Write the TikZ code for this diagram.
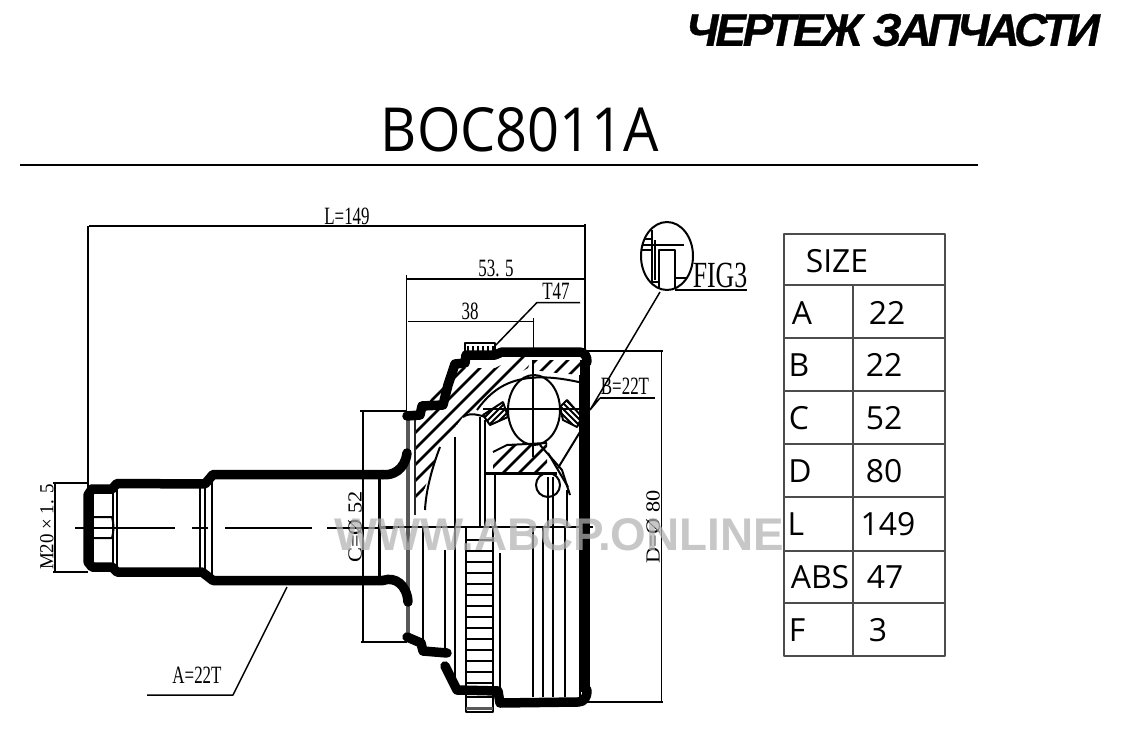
\documentclass[tikz,border=0pt]{standalone}
\usepackage{fontspec}
\setmainfont{Liberation Serif}
\newfontfamily\titlefont[LetterSpace=-7,BoldItalicFeatures={FakeBold=0.7}]{Liberation Sans}
\newfontfamily\codefont{Open Sans}
\newfontfamily\markfont{Liberation Sans}
\usetikzlibrary{positioning}
\usetikzlibrary{calc}
\tikzset{thinline/.style={line width=1.4bp, black!85}, thickline/.style={line width=9.5bp, line cap=round, line join=round}, dimline/.style={line width=1.5bp}, midline/.style={line width=2bp}, hatchline/.style={line width=2.8bp}, dimtext/.style={inner sep=0pt, font=\fontsize{25}{25}\selectfont}, sidetext/.style={inner sep=0pt, rotate=90, font=\fontsize{20}{20}\selectfont}, celltext/.style={inner sep=0pt, font=\codefont\fontsize{32}{32}\selectfont}}
\newcommand{\narrowtext}[1]{\scalebox{0.68}[1]{#1}}
% hatching over a clipped area, spacing given in pixels
\newcommand{\hatcharea}[2]{\begin{scope}\clip #1;
  \foreach \i in {300,#2,...,620} {\draw [hatchline] (\i,500) -- ++(200,-200);}
  \end{scope}}
\begin{document}
\begin{tikzpicture}[x=1bp,y=-1bp,line join=bevel,]
\useasboundingbox (0,0) rectangle (1123,741);
%% headings
\node (title) at (893,30) {\titlefont\bfseries\itshape\fontsize{46}{46}\selectfont ЧЕРТЕЖ ЗАПЧАСТИ};
\node (code) at (520,130) [inner sep=0pt] {\scalebox{0.92}[1]{\codefont\fontsize{61}{61}\selectfont BOC8011A}};
\draw [line width=2bp] (20,165) -- (978,165);
%% size table
\draw [line width=1.8bp, black!70] (784,234) rectangle (945,656);
\foreach \y in {285,338,391,444,497,551,603} {\draw [line width=1.8bp, black!70] (784,\y) -- (945,\y);}
\draw [line width=1.8bp, black!70] (853,285) -- (853,656);
\node (size) at (837,261) [celltext] {SIZE};
\node (a) at (802,313) [celltext] {A};
\node (b) at (799,365) [celltext] {B};
\node (c) at (799,418) [celltext] {C};
\node (d) at (800,471) [celltext] {D};
\node (l) at (796,524) [celltext] {L};
\node (abs) at (820,577) [celltext] {ABS};
\node (f) at (797,630) [celltext] {F};
\node (av) at (887,313) [celltext] {22};
\node (bv) at (884,365) [celltext] {22};
\node (cv) at (884,418) [celltext] {52};
\node (dv) at (884,471) [celltext] {80};
\node (lv) at (888,524) [celltext] {149};
\node (absv) at (885,577) [celltext] {47};
\node (fv) at (878,630) [celltext] {3};
%% hatching
\hatcharea{(415,420) -- (455,368) -- (495,368) -- (517,357) -- (532,357) -- (528,368) -- (507,380) -- (477,407) -- (463,417) -- (440,447) -- (423,493) -- (425,510) -- (420,515) -- (415,515) -- cycle}{316}
\hatcharea{(533,360) -- (580,360) -- (580,375) -- (557,373) -- (533,370) -- cycle}{316}
\hatcharea{(493,452) -- (507,445) -- (547,443) -- (547,472) -- (493,472) -- cycle}{316}
\begin{scope}
\clip (483,415) -- (503,402) -- (508,417) -- (490,425) -- cycle;
\foreach \i in {330,336,...,450} {\draw [midline] (\i,500) -- ++(200,-200);}
\end{scope}
\begin{scope}
\clip (560,407) -- (567,400) -- (582,417) -- (577,427) -- (563,420) -- cycle;
\foreach \i in {340,346,...,480} {\draw [midline] (\i,300) -- ++(200,200);}
\end{scope}
%% inner lines of the joint
\draw [line width=3.5bp, black!65] (408,417) -- (408,637);
\draw [midline] (423,527) -- (423,640);
\draw [thinline] (415,420) -- (415,515);
\draw [midline] (445,550) -- (445,650);
\draw [midline] (455,437) -- (455,687);
\draw [midline] (480,417) -- (480,527);
\draw [midline] (485,420) -- (485,527);
\draw [midline] (495,473) -- (495,527);
\draw [midline] (466,527) -- (466,712);
\draw [midline] (493,527) -- (493,712);
\draw [midline] (500,553) -- (500,690);
\draw [midline] (533,527) -- (533,697);
\draw [midline] (543,527) -- (543,697);
\draw [midline] (553,477) -- (553,697);
\draw [midline] (565,527) -- (565,697);
\draw [midline] (548,477) -- (548,527);
\draw [midline] (567,490) -- (567,527);
\draw [midline] (580,375) -- (580,697);
\draw [midline] (380,527) -- (593,527);
\foreach \y in {540,551,...,684} {\draw [midline] (466,\y) -- (493,\y);}
\draw [midline] (466,697) rectangle (493,712);
\draw [line width=3bp, black!65] (466,708) -- (493,708);
%% ball, cage and races
\draw [midline] (534,410) ellipse (26bp and 35bp);
\draw [midline] (483,409) -- (580,409);
\draw [midline] (533,360) -- (533,457);
\draw [midline] (477,410) .. controls (495,385) and (520,368) .. (583,383);
\draw [midline] (463,417) .. controls (470,412) and (478,415) .. (486,417);
\draw [midline] (440,447) .. controls (432,468) and (426,490) .. (425,510);
\draw [midline] (483,415) -- (503,402) -- (508,417) -- (490,425) -- cycle;
\draw [midline] (560,407) -- (567,400) -- (582,417) -- (577,427) -- (563,420) -- cycle;
\draw [midline] (493,452) -- (507,445) -- (547,443);
\draw [line width=3bp] (485,473) -- (557,473);
\draw [midline] (548,485) ellipse (12bp and 12bp);
\draw [midline] (548,453) -- (568,487);
\draw [midline] (540,445) -- (562,470) -- (570,495);
\draw [midline] (558,468) -- (580,432);
%% thick outline of the joint
\draw [thickline] (407,416) -- (420,415) -- (422,406) -- (443,405) -- (448,385) -- (455,364) -- (465,363) -- (466,355) -- (495,355) -- (502,352) -- (578,352) .. controls (585,352) and (587,356) .. (587,362);
\draw [line width=10bp] (585,360) -- (585,692);
\draw [thickline] (587,690) .. controls (587,698) and (584,702) .. (578,702) -- (500,703) -- (498,691) -- (457,690) -- (445,666);
\draw [thickline] (447,653) -- (423,651) -- (421,643) -- (407,637);
\draw [thickline] (383,474.5) .. controls (392,476) and (405,470) .. (407,453);
\draw [thickline] (383,580.5) .. controls (395,576) and (407,585) .. (408,602);
\draw [midline] (465,353) -- (465,343) -- (495,343) -- (495,353);
\foreach \x in {468,473,...,494} {\draw [midline] (\x,346) -- ++(0,7);}
%% stub shaft
\draw [thickline] (383,474.5) -- (213,474.5) -- (205,484) -- (117,483.5) -- (112,489) -- (92,489) -- (88,495) -- (88,562) -- (92,567) -- (112,567) -- (117,572) -- (202,572) -- (213,580.5) -- (383,580.5);
\draw [midline] (93,490) -- (93,566);
\draw [midline] (93,517) -- (112,517) .. controls (114,525) and (114,530) .. (112,538) -- (93,538);
\draw [midline] (113,490) -- (113,566);
\draw [midline] (117,490) -- (117,566);
\draw [midline] (200,487) -- (200,570);
\draw [midline] (205,487) -- (205,570);
\draw [midline] (212,480) -- (212,577);
\draw [line width=3bp] (379,478) -- (379,578);
%% centre line
\foreach \a/\b in {75/175,192/208,225/312,327/345,345/395} {\draw [midline] (\a,528) -- (\b,528);}
%% dimensions
\coordinate (ltop) at (89,226);
\coordinate (rtop) at (585,226);
\draw [dimline] (ltop) -- (rtop);
\draw [dimline] (88,226) -- (88,488);
\draw [dimline] (585,224) -- (585,350);
\node (lsize) at (347,216) [dimtext] {\narrowtext{L=149}};
\draw [dimline] (407,279) -- (584,279);
\draw [dimline] (406.5,275) -- (406.5,417);
\node (hsize) at (496,268) [dimtext] {\narrowtext{53. 5}};
\draw [dimline] (408,321.5) -- (533,321.5);
\draw [dimline] (533.5,318) -- (533.5,350);
\node (gsize) at (470,311) [dimtext] {\narrowtext{38}};
\draw [dimline] (493,348) -- (537,302.5) -- (580,302.5);
\node (tooth) at (556,291) [dimtext] {\narrowtext{T47}};
\draw [dimline] (587,351) -- (663,351);
\draw [dimline] (587,702) -- (663,702);
\draw [dimline] (661.5,351) -- (661.5,702);
\node (dsize) at (653,527) [sidetext] {\scalebox{1.12}[1]{D=Ø 80}};
\draw [dimline] (360,411) -- (407,411);
\draw [dimline] (361,642) -- (407,642);
\draw [dimline] (363,411) -- (363,642);
\node (csize) at (355,527) [sidetext] {\scalebox{1.12}[1]{C=Ø 52}};
\draw [dimline] (53,483) -- (88,483);
\draw [dimline] (53,572) -- (88,572);
\draw [dimline] (55,483) -- (55,572);
\node (thread) at (47,527) [sidetext] {\scalebox{0.95}[1]{M20 × 1. 5}};
\draw [dimline] (147,695) -- (233,695) -- (287,587);
\node (aspline) at (197,675) [dimtext] {\narrowtext{A=22T}};
\draw [dimline] (600,398) -- (655,398);
\draw [dimline] (600,398) -- (590,410) -- (660,292);
\node (bspline) at (625,386) [dimtext] {\narrowtext{B=22T}};
%% detail circle
\draw [line width=2bp] (667,256) ellipse (26bp and 34bp);
\begin{scope}
\clip (667,256) ellipse (26bp and 34bp);
\draw [midline] (652,230) -- (652,290);
\draw [midline] (640,239) -- (652,239);
\draw [midline] (640,245) -- (684,245);
\draw [midline] (640,250) -- (652,250);
\draw [midline] (655,240) -- (655,280);
\draw [midline] (659,290) -- (659,250) -- (675,250) -- (675,290);
\draw [midline] (675,278) -- (695,278);
\draw [midline] (652,282) -- (659,282);
\end{scope}
\node (figlabel) at (720,275) [inner sep=0pt, font=\fontsize{37}{37}\selectfont] {\scalebox{0.7}[1]{FIG3}};
\draw [dimline] (675,290) -- (747,290);
%% watermark
\node (mark) at (559,535) [inner sep=0pt, opacity=0.72, text=black!30] {\markfont\bfseries\fontsize{46}{46}\selectfont WWW.ABCP.ONLINE};
%
\end{tikzpicture}
\end{document}
